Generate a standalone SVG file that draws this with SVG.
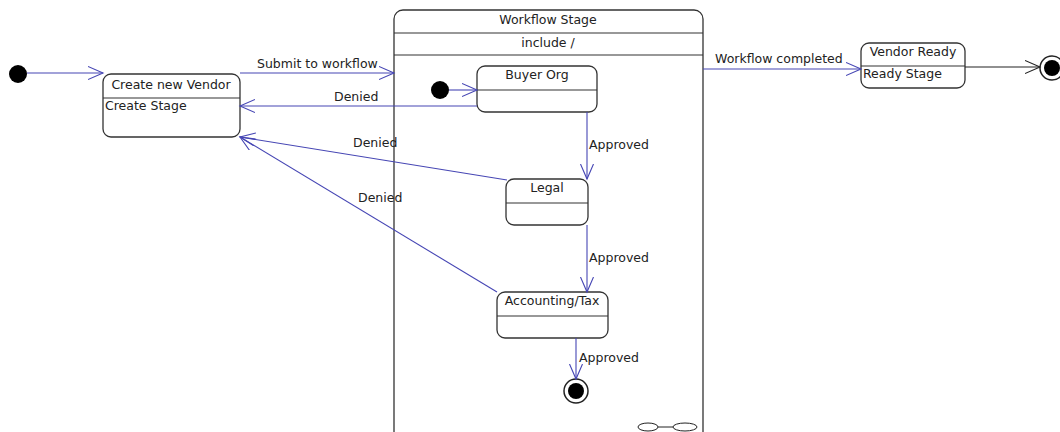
<svg xmlns="http://www.w3.org/2000/svg" width="1060" height="432" viewBox="0 0 1060 432">
<style>
.box{fill:#fff;stroke:#333;stroke-width:1.3}
.div{stroke:#333;stroke-width:1.2}
.t{font-family:"DejaVu Sans",Verdana,sans-serif;font-size:12.5px;fill:#222}
.c{text-anchor:middle}
.con{fill:none;stroke:#4646b4;stroke-width:1.1}
.blk{fill:none;stroke:#222;stroke-width:1.1}
</style>
<defs>
<marker id="ab" markerUnits="userSpaceOnUse" markerWidth="18" markerHeight="16" refX="15" refY="7" orient="auto">
<path d="M0,0.5 L15,7 L0,13.5" fill="none" stroke="#4646b4" stroke-width="1.1"/>
</marker>
<marker id="ak" markerUnits="userSpaceOnUse" markerWidth="18" markerHeight="16" refX="15" refY="7" orient="auto">
<path d="M0,0.5 L15,7 L0,13.5" fill="none" stroke="#222" stroke-width="1.1"/>
</marker>
</defs>

<g id="workflow-stage">
<rect class="box" x="394" y="10" width="309" height="440" rx="9"/>
<line class="div" x1="394" y1="33" x2="703" y2="33"/>
<line class="div" x1="394" y1="55" x2="703" y2="55"/>
<text class="t c" x="548" y="24">Workflow Stage</text>
<text class="t c" x="548" y="47">include /</text>
<ellipse cx="648" cy="427" rx="10" ry="4" fill="#fff" stroke="#222" stroke-width="1"/>
<ellipse cx="685" cy="427" rx="12" ry="4" fill="#fff" stroke="#222" stroke-width="1"/>
<line x1="658" y1="427" x2="673" y2="427" stroke="#222" stroke-width="1"/>
</g>

<g id="start">
<circle cx="18" cy="74" r="9" fill="#000"/>
</g>

<g id="create-vendor">
<rect class="box" x="103" y="74" width="137" height="63" rx="8"/>
<line class="div" x1="103" y1="98" x2="240" y2="98"/>
<text class="t c" x="171" y="89">Create new Vendor</text>
<text class="t" x="105" y="110">Create Stage</text>
</g>

<g id="inner-start">
<circle cx="440" cy="90" r="9" fill="#000"/>
</g>

<g id="buyer-org">
<rect class="box" x="477" y="66" width="120" height="46" rx="8"/>
<line class="div" x1="477" y1="90" x2="597" y2="90"/>
<text class="t c" x="537" y="79">Buyer Org</text>
</g>

<g id="legal">
<rect class="box" x="506" y="179" width="82" height="46" rx="8"/>
<line class="div" x1="506" y1="203" x2="588" y2="203"/>
<text class="t c" x="547" y="192">Legal</text>
</g>

<g id="accounting">
<rect class="box" x="497" y="292" width="111" height="46" rx="8"/>
<line class="div" x1="497" y1="316" x2="608" y2="316"/>
<text class="t c" x="552" y="305">Accounting/Tax</text>
</g>

<g id="inner-end">
<circle cx="576" cy="391" r="12" fill="#fff" stroke="#222" stroke-width="1.5"/>
<circle cx="576" cy="391" r="8" fill="#000"/>
</g>

<g id="vendor-ready">
<rect class="box" x="861" y="43" width="104" height="45" rx="8"/>
<line class="div" x1="861" y1="66" x2="965" y2="66"/>
<text class="t c" x="913" y="56">Vendor Ready</text>
<text class="t" x="863" y="78">Ready Stage</text>
</g>

<g id="end">
<circle cx="1052" cy="68" r="12" fill="#fff" stroke="#222" stroke-width="1.5"/>
<circle cx="1052" cy="68" r="8" fill="#000"/>
</g>

<g id="connectors">
<line class="con" x1="27" y1="73" x2="103" y2="73" marker-end="url(#ab)"/>
<line class="con" x1="240" y1="73" x2="394" y2="73" marker-end="url(#ab)"/>
<text class="t" x="257" y="68">Submit to workflow</text>
<line class="con" x1="449" y1="90" x2="477" y2="90" marker-end="url(#ab)"/>
<line class="con" x1="477" y1="106" x2="240" y2="106" marker-end="url(#ab)"/>
<text class="t" x="334" y="101">Denied</text>
<line class="con" x1="587" y1="112" x2="587" y2="179" marker-end="url(#ab)"/>
<text class="t" x="589" y="149">Approved</text>
<line class="con" x1="507" y1="180" x2="240" y2="137" marker-end="url(#ab)"/>
<text class="t" x="353" y="147">Denied</text>
<line class="con" x1="587" y1="225" x2="587" y2="292" marker-end="url(#ab)"/>
<text class="t" x="589" y="262">Approved</text>
<line class="con" x1="497" y1="292" x2="240" y2="137" marker-end="url(#ab)"/>
<text class="t" x="358" y="202">Denied</text>
<line class="con" x1="576" y1="338" x2="576" y2="379" marker-end="url(#ab)"/>
<text class="t" x="579" y="362">Approved</text>
<line class="con" x1="703" y1="69" x2="861" y2="69" marker-end="url(#ab)"/>
<text class="t" x="715" y="63">Workflow completed</text>
<line class="blk" x1="965" y1="67" x2="1040" y2="67" marker-end="url(#ak)"/>
</g>
</svg>
